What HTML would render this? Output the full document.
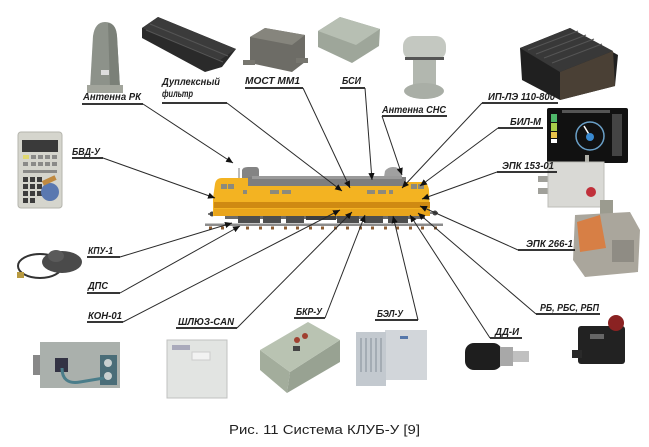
<!DOCTYPE html>
<html><head><meta charset="utf-8">
<style>
html,body{margin:0;padding:0;background:#fff;}
svg{display:block;}
.l{font-family:"Liberation Sans","DejaVu Sans",sans-serif;font-weight:bold;font-style:italic;font-size:10.5px;fill:#1e1e1e;}
.u{stroke:#1a1a1a;stroke-width:1.8;fill:none;}
.c{stroke:#2a2a2a;stroke-width:1;fill:none;}
</style></head>
<body>
<svg width="649" height="447" viewBox="0 0 649 447" xmlns="http://www.w3.org/2000/svg">
<defs>
<marker id="a" viewBox="0 0 10 10" refX="10" refY="5" markerWidth="7" markerHeight="7" markerUnits="userSpaceOnUse" orient="auto"><path d="M0,0.5 L10,5 L0,9.5z" fill="#111"/></marker>
</defs>
<rect width="649" height="447" fill="#fff"/>

<!-- ===== Devices (top) ===== -->
<!-- Антенна РК -->
<path d="M90,88 L93,36 Q95,22 105,22 Q116,22 117,36 L120,88 Z" fill="#8d928a"/>
<path d="M108,23 Q116,24 117,36 L120,88 L110,88 Z" fill="#7b8078"/>
<rect x="87" y="85" width="36" height="8" fill="#a2a59c"/>
<rect x="101" y="70" width="8" height="5" fill="#ddd"/>
<!-- Дуплексный фильтр -->
<polygon points="142,28 158,17 236,49 222,67 205,72 142,38" fill="#2a2a2a"/>
<polygon points="142,28 158,17 236,49 220,60" fill="#3b3b3b"/>
<line x1="150" y1="24" x2="228" y2="56" stroke="#555" stroke-width="1"/>
<line x1="146" y1="30" x2="223" y2="62" stroke="#555" stroke-width="1"/>
<!-- МОСТ ММ1 -->
<polygon points="250,37 265,28 305,35 305,62 292,72 250,63" fill="#6d6c66"/>
<polygon points="250,37 265,28 305,35 292,45" fill="#86857d"/>
<rect x="243" y="60" width="12" height="5" fill="#77766f"/>
<rect x="296" y="58" width="12" height="5" fill="#77766f"/>
<!-- БСИ -->
<polygon points="318,31 340,17 380,29 379,46 352,63 318,47" fill="#9ea69a"/>
<polygon points="318,31 340,17 380,29 356,45" fill="#b7bfb3"/>
<!-- Антенна СНС -->
<rect x="403" y="36" width="43" height="24" rx="10" fill="#c4c8c1"/>
<rect x="405" y="57" width="39" height="3" fill="#555"/>
<rect x="413" y="60" width="23" height="27" fill="#b2b7af"/>
<ellipse cx="424" cy="91" rx="20" ry="8" fill="#a9aea6"/>
<!-- ИП-ЛЭ 110-800 -->
<polygon points="520,48 570,28 618,55 615,86 560,100 522,80" fill="#202020"/>
<polygon points="520,48 570,28 613,51 560,72" fill="#383838"/>
<g stroke="#555" stroke-width="1">
<line x1="528" y1="50" x2="578" y2="31"/><line x1="536" y1="54" x2="586" y2="35"/>
<line x1="544" y1="58" x2="594" y2="39"/><line x1="552" y1="63" x2="602" y2="44"/>
</g>
<polygon points="560,72 613,51 615,86 560,100" fill="#4a4035"/>
<!-- БИЛ-М -->
<rect x="547" y="108" width="81" height="55" rx="2" fill="#111"/>
<rect x="551" y="114" width="6" height="8" fill="#4fb86a"/>
<rect x="551" y="123" width="6" height="8" fill="#a9cf4a"/>
<rect x="551" y="132" width="6" height="6" fill="#e8c34a"/>
<rect x="551" y="139" width="6" height="4" fill="#fff"/>
<circle cx="590" cy="136" r="14" fill="none" stroke="#6aa0c8" stroke-width="1.5"/>
<line x1="590" y1="136" x2="584" y2="126" stroke="#fff" stroke-width="1.5"/>
<circle cx="590" cy="137" r="4" fill="#3a8ad0"/>
<rect x="612" y="114" width="10" height="42" fill="#444"/>
<rect x="562" y="110" width="48" height="3" fill="#555"/>
<!-- БВД-У -->
<rect x="18" y="132" width="44" height="76" rx="3" fill="#d5d5cd" stroke="#b5b5ad"/>
<rect x="22" y="140" width="36" height="12" fill="#3a3a3a"/>
<rect x="23" y="155" width="6" height="4" fill="#e0d870"/>
<g fill="#8a8a88"><rect x="31" y="155" width="5" height="4"/><rect x="38" y="155" width="5" height="4"/><rect x="45" y="155" width="5" height="4"/><rect x="52" y="155" width="5" height="4"/>
<rect x="23" y="162" width="5" height="4"/><rect x="31" y="162" width="5" height="4"/><rect x="38" y="162" width="5" height="4"/><rect x="45" y="162" width="5" height="4"/><rect x="52" y="162" width="5" height="4"/>
<rect x="23" y="170" width="34" height="3"/></g>
<g fill="#3c3c3c"><rect x="23" y="177" width="5" height="5"/><rect x="30" y="177" width="5" height="5"/><rect x="37" y="177" width="5" height="5"/>
<rect x="23" y="184" width="5" height="5"/><rect x="30" y="184" width="5" height="5"/><rect x="37" y="184" width="5" height="5"/>
<rect x="23" y="191" width="5" height="5"/><rect x="30" y="191" width="5" height="5"/><rect x="37" y="191" width="5" height="5"/>
<rect x="23" y="198" width="5" height="5"/><rect x="30" y="198" width="5" height="5"/></g>
<circle cx="50" cy="192" r="9" fill="#5a78b0"/>
<rect x="42" y="178" width="14" height="5" fill="#c08a40" transform="rotate(-25 49 180)"/>
<!-- КПУ-1 -->
<ellipse cx="40" cy="266" rx="22" ry="12" fill="none" stroke="#333" stroke-width="2"/>
<ellipse cx="62" cy="262" rx="20" ry="11" fill="#4a4a4a"/>
<ellipse cx="56" cy="256" rx="8" ry="6" fill="#5a5a5a"/>
<rect x="17" y="272" width="7" height="6" fill="#b89a40"/>
<!-- ЭПК 153-01 -->
<rect x="538" y="176" width="11" height="6" fill="#a0a09a"/>
<rect x="538" y="188" width="11" height="6" fill="#a0a09a"/>
<rect x="585" y="155" width="4" height="8" fill="#b0b0a8"/>
<rect x="548" y="162" width="56" height="45" fill="#d9d9d5" stroke="#bdbdb8"/>
<circle cx="591" cy="192" r="5" fill="#c0303a"/>
<!-- ЭПК 266-1 -->
<rect x="600" y="200" width="13" height="16" fill="#9b9b8f"/>
<polygon points="575,215 630,212 640,230 638,272 585,277 573,260" fill="#aaa69c"/>
<polygon points="577,222 600,215 606,248 580,252" fill="#d77f45"/>
<rect x="612" y="240" width="22" height="22" fill="#8f8c84"/>

<!-- ===== Devices (bottom) ===== -->
<!-- КОН-01 -->
<rect x="33" y="355" width="10" height="20" fill="#888"/>
<rect x="40" y="342" width="80" height="46" fill="#aab0ac"/>
<rect x="55" y="358" width="13" height="14" fill="#334"/>
<rect x="100" y="355" width="17" height="30" fill="#4a6d78"/>
<circle cx="108" cy="363" r="4" fill="#c8d0d0"/>
<circle cx="108" cy="376" r="4" fill="#c8d0d0"/>
<path d="M62,368 Q62,385 80,382 L104,378" fill="none" stroke="#4a7d8a" stroke-width="3"/>
<!-- ШЛЮЗ-CAN -->
<rect x="167" y="340" width="60" height="58" fill="#e2e4e2" stroke="#c0c2c0"/>
<rect x="172" y="345" width="18" height="5" fill="#aab"/>
<rect x="192" y="352" width="18" height="8" fill="#f2f2f2" stroke="#ccc"/>
<!-- БКР-У -->
<polygon points="260,350 290,372 287,393 260,370" fill="#a3ad9c"/>
<polygon points="290,372 340,340 340,362 287,393" fill="#98a292"/>
<polygon points="260,350 308,322 340,340 290,372" fill="#b9c3b2"/>
<circle cx="297" cy="340" r="3" fill="#a04030"/>
<circle cx="305" cy="336" r="3" fill="#a04030"/>
<rect x="293" y="346" width="7" height="5" fill="#444"/>
<!-- БЭЛ-У -->
<rect x="385" y="330" width="42" height="50" fill="#d2d6da"/>
<rect x="356" y="332" width="30" height="54" fill="#c3c9cf"/>
<g stroke="#9aa2aa" stroke-width="1.5"><line x1="361" y1="338" x2="361" y2="372"/><line x1="366" y1="338" x2="366" y2="372"/><line x1="371" y1="338" x2="371" y2="372"/><line x1="376" y1="338" x2="376" y2="372"/><line x1="381" y1="338" x2="381" y2="372"/></g>
<rect x="400" y="336" width="8" height="3" fill="#5577aa"/>
<!-- ДД-И -->
<rect x="465" y="343" width="37" height="27" rx="9" fill="#1e1e1e"/>
<rect x="500" y="347" width="13" height="19" fill="#a8a8a8"/>
<rect x="513" y="351" width="16" height="11" fill="#c0c0c0"/>
<!-- РБ -->
<rect x="578" y="326" width="47" height="38" rx="3" fill="#222"/>
<rect x="572" y="350" width="10" height="8" fill="#2a2a2a"/>
<circle cx="616" cy="323" r="8" fill="#8a2222"/>
<rect x="590" y="334" width="14" height="5" fill="#666"/>

<!-- ===== Locomotive ===== -->
<rect x="205" y="223.5" width="238" height="2.5" fill="#8c8c8c"/>
<g fill="#8a5a30">
<rect x="209" y="226.5" width="3" height="3"/><rect x="221" y="226.5" width="3" height="3"/><rect x="234" y="226.5" width="3" height="3"/><rect x="246" y="226.5" width="3" height="3"/><rect x="259" y="226.5" width="3" height="3"/><rect x="271" y="226.5" width="3" height="3"/><rect x="284" y="226.5" width="3" height="3"/><rect x="296" y="226.5" width="3" height="3"/><rect x="309" y="226.5" width="3" height="3"/><rect x="321" y="226.5" width="3" height="3"/><rect x="334" y="226.5" width="3" height="3"/><rect x="346" y="226.5" width="3" height="3"/><rect x="359" y="226.5" width="3" height="3"/><rect x="371" y="226.5" width="3" height="3"/><rect x="384" y="226.5" width="3" height="3"/><rect x="396" y="226.5" width="3" height="3"/><rect x="409" y="226.5" width="3" height="3"/><rect x="421" y="226.5" width="3" height="3"/><rect x="434" y="226.5" width="3" height="3"/>
</g>
<rect x="225" y="215" width="200" height="4" fill="#6a6a6a"/>
<g fill="#4e4e4e">
<rect x="238" y="215" width="22" height="8"/><rect x="263" y="215" width="18" height="8"/><rect x="286" y="215" width="18" height="8"/>
<rect x="337" y="215" width="22" height="8"/><rect x="364" y="215" width="19" height="8"/><rect x="388" y="215" width="20" height="8"/>
</g>
<rect x="306" y="215" width="30" height="5" fill="#3e3e3e"/>
<line x1="208" y1="214" x2="216" y2="214" stroke="#555" stroke-width="1.5"/>
<circle cx="212" cy="214" r="2.5" fill="#444"/>
<line x1="428" y1="213" x2="438" y2="213" stroke="#555" stroke-width="1.5"/>
<circle cx="435" cy="213" r="2.5" fill="#444"/>
<!-- domes -->
<path d="M242,178 L242,170 Q243,167 248,167 L256,167 Q259,167 259,171 L259,178 Z" fill="#848484"/>
<line x1="239" y1="168" x2="239" y2="178" stroke="#777" stroke-width="1"/>
<path d="M384,177 L385,171 Q388,167 393,167 Q399,167 401,171 L402,177 Z" fill="#a0a0a0"/>
<!-- body -->
<path d="M213,198 L215,184 Q216,178 222,178 L250,178 L250,186 L405,186 L405,182 L423,182 Q428,183 429,190 L430,216 L213,216 Z" fill="#f3b322"/>
<rect x="248" y="177" width="158" height="9" fill="#7e7e7e"/>
<rect x="252" y="176" width="150" height="3" fill="#9a9a9a"/>
<rect x="214" y="202" width="216" height="6" fill="#cf8a12"/>
<rect x="214" y="209" width="216" height="7" fill="#e9a51c"/>
<g fill="#8c8a7c">
<rect x="221" y="184" width="6" height="5"/><rect x="228" y="184" width="6" height="5"/>
<rect x="270" y="190" width="9" height="4"/><rect x="282" y="190" width="9" height="4"/>
<rect x="243" y="190" width="4" height="4"/>
<rect x="367" y="190" width="8" height="4"/><rect x="378" y="190" width="8" height="4"/><rect x="389" y="190" width="4" height="4"/>
<rect x="411" y="184" width="6" height="5"/><rect x="418" y="184" width="6" height="5"/>
</g>

<!-- ===== Connectors ===== -->
<!-- underlines -->
<line class="u" x1="82" y1="104" x2="143" y2="104"/>
<line class="u" x1="162" y1="103" x2="227" y2="103"/>
<line class="u" x1="245" y1="88" x2="303" y2="88"/>
<line class="u" x1="340" y1="88" x2="365" y2="88"/>
<line class="u" x1="382" y1="116" x2="447" y2="116"/>
<line class="u" x1="482" y1="103" x2="558" y2="103"/>
<line class="u" x1="498" y1="128" x2="543" y2="128"/>
<line class="u" x1="72" y1="158" x2="103" y2="158"/>
<line class="u" x1="497" y1="172" x2="557" y2="172"/>
<line class="u" x1="518" y1="250" x2="575" y2="250"/>
<line class="u" x1="536" y1="314" x2="600" y2="314"/>
<line class="u" x1="490" y1="338" x2="522" y2="338"/>
<line class="u" x1="375" y1="320" x2="418" y2="320"/>
<line class="u" x1="294" y1="318" x2="325" y2="318"/>
<line class="u" x1="176" y1="328" x2="237" y2="328"/>
<line class="u" x1="87" y1="322" x2="123" y2="322"/>
<line class="u" x1="87" y1="257" x2="120" y2="257"/>
<line class="u" x1="87" y1="293" x2="120" y2="293"/>
<!-- diagonals -->
<g marker-end="url(#a)">
<line class="c" x1="143" y1="104" x2="233" y2="163"/>
<line class="c" x1="227" y1="103" x2="342" y2="191"/>
<line class="c" x1="303" y1="88" x2="350" y2="188"/>
<line class="c" x1="365" y1="88" x2="372" y2="180"/>
<line class="c" x1="382" y1="116" x2="402" y2="175"/>
<line class="c" x1="482" y1="103" x2="402" y2="188"/>
<line class="c" x1="498" y1="128" x2="420" y2="186"/>
<line class="c" x1="103" y1="158" x2="215" y2="198"/>
<line class="c" x1="497" y1="172" x2="422" y2="199"/>
<line class="c" x1="518" y1="250" x2="420" y2="206"/>
<line class="c" x1="536" y1="314" x2="418" y2="213"/>
<line class="c" x1="490" y1="338" x2="410" y2="215"/>
<line class="c" x1="418" y1="320" x2="393" y2="216"/>
<line class="c" x1="325" y1="318" x2="365" y2="215"/>
<line class="c" x1="237" y1="328" x2="352" y2="212"/>
<line class="c" x1="123" y1="322" x2="340" y2="210"/>
<line class="c" x1="120" y1="257" x2="232" y2="223"/>
<line class="c" x1="120" y1="293" x2="240" y2="226"/>
</g>

<!-- ===== Labels ===== -->
<text class="l" x="83" y="100" textLength="58" lengthAdjust="spacingAndGlyphs">Антенна РК</text>
<text class="l" x="162" y="85" textLength="58" lengthAdjust="spacingAndGlyphs">Дуплексный</text>
<text class="l" x="162" y="97" textLength="31" lengthAdjust="spacingAndGlyphs">фильтр</text>
<text class="l" x="245" y="84" textLength="55" lengthAdjust="spacingAndGlyphs">МОСТ ММ1</text>
<text class="l" x="342" y="84" textLength="19" lengthAdjust="spacingAndGlyphs">БСИ</text>
<text class="l" x="382" y="113" textLength="64" lengthAdjust="spacingAndGlyphs">Антенна СНС</text>
<text class="l" x="488" y="100" textLength="67" lengthAdjust="spacingAndGlyphs">ИП-ЛЭ 110-800</text>
<text class="l" x="510" y="125" textLength="31" lengthAdjust="spacingAndGlyphs">БИЛ-М</text>
<text class="l" x="72" y="155" textLength="28" lengthAdjust="spacingAndGlyphs">БВД-У</text>
<text class="l" x="502" y="169" textLength="52" lengthAdjust="spacingAndGlyphs">ЭПК 153-01</text>
<text class="l" x="526" y="247" textLength="47" lengthAdjust="spacingAndGlyphs">ЭПК 266-1</text>
<text class="l" x="540" y="311" textLength="59" lengthAdjust="spacingAndGlyphs">РБ, РБС, РБП</text>
<text class="l" x="495" y="335" textLength="24" lengthAdjust="spacingAndGlyphs">ДД-И</text>
<text class="l" x="377" y="317" textLength="26" lengthAdjust="spacingAndGlyphs">БЭЛ-У</text>
<text class="l" x="296" y="315" textLength="26" lengthAdjust="spacingAndGlyphs">БКР-У</text>
<text class="l" x="178" y="325" textLength="56" lengthAdjust="spacingAndGlyphs">ШЛЮЗ-CAN</text>
<text class="l" x="88" y="319" textLength="34" lengthAdjust="spacingAndGlyphs">КОН-01</text>
<text class="l" x="88" y="254" textLength="25" lengthAdjust="spacingAndGlyphs">КПУ-1</text>
<text class="l" x="88" y="289" textLength="20" lengthAdjust="spacingAndGlyphs">ДПС</text>

<text x="229" y="434" textLength="191" lengthAdjust="spacingAndGlyphs" style="font-family:'Liberation Sans','DejaVu Sans',sans-serif;font-size:13px;fill:#222;">Рис. 11 Система КЛУБ-У [9]</text>
</svg>
</body></html>
